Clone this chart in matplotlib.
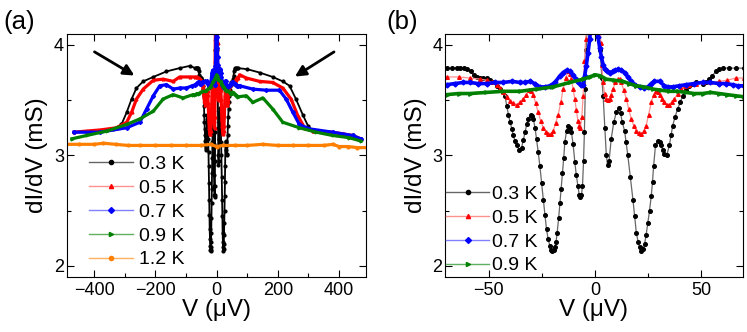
import matplotlib
matplotlib.use('Agg')
import matplotlib.pyplot as plt
from matplotlib.lines import Line2D
from matplotlib.ticker import MultipleLocator

plt.rcParams['font.family'] = ['Liberation Sans', 'DejaVu Sans']

# ---- data: bias V (uV) and dI/dV (mS) ----
v03 = [-466, -425, -381, -338, -311, -294, -278, -262, -240, -207, -164, -121, -88,
       -69.6, -67, -65, -63.3, -61.5, -60.2, -58.5, -57, -55.5, -54, -52.5, -50.9, -49.3,
       -47.7, -46.2, -44.6, -43.4, -42.3, -41.5, -40.7, -39.9, -39.1, -38.4, -37.6, -36.8,
       -35.6, -34.5, -33.7, -32.9, -32.1, -31.4, -30.3, -29.6, -29.0, -28.2, -27.5, -26.7,
       -25.9, -25.1, -24.3, -23.5, -22.8, -22.0, -21.2, -20.6, -20.0, -19.4, -18.9, -18.3,
       -17.8, -17.1, -16.5, -15.9, -15.3, -14.7, -14.2, -13.4, -12.6, -11.8, -11.1, -10.3,
       -9.5, -8.8, -8.0, -7.4, -6.9, -6.4, -5.9, -5.4, -5.0, -4.6, -4.2, -3.0, -1.5, 0,
       1.0, 1.5, 2.4, 3.2, 3.8, 4.6, 5.3, 5.9, 6.6, 7.6, 8.8, 10.0, 11.2, 12.0, 12.8, 13.9,
       14.6, 15.4, 16.6, 17.8, 18.6, 19.4, 20.2, 20.9, 21.7, 22.5, 23.3, 24.0, 24.8, 25.6,
       26.4, 27.0, 27.5, 28.4, 29.5, 30.3, 31.0, 31.8, 32.6, 33.7, 34.9, 35.7, 36.5, 37.6,
       38.8, 40.0, 41.2, 42.7, 44.3, 46.0, 47.4, 50.5, 52.0, 53.7, 55.0, 56.8, 58.3, 59.9,
       63, 66.1, 70,
       100, 140, 183, 216, 238, 259, 281, 298, 314, 357, 412, 444, 471]
g03 = [3.21, 3.21, 3.22, 3.24, 3.28, 3.39, 3.51, 3.61, 3.67, 3.71, 3.76, 3.79, 3.81,
       3.79, 3.79, 3.795, 3.795, 3.79, 3.78, 3.76, 3.73, 3.71, 3.70, 3.70, 3.70, 3.68,
       3.66, 3.63, 3.60, 3.57, 3.54, 3.45, 3.37, 3.30, 3.24, 3.18, 3.13, 3.09,
       3.05, 3.07, 3.14, 3.21, 3.28, 3.33, 3.37, 3.36, 3.33, 3.25, 3.15, 3.03,
       2.90, 2.75, 2.60, 2.46, 2.33, 2.24, 2.18, 2.14, 2.13, 2.14, 2.17, 2.22,
       2.30, 2.43, 2.57, 2.70, 2.84, 2.98, 3.12, 3.22, 3.27, 3.25, 3.21, 3.10,
       2.94, 2.82, 2.72, 2.64, 2.62, 2.64, 2.72, 2.95, 3.21, 3.60, 3.95, 4.45, 4.7, 4.8,
       4.6, 4.4, 3.95, 3.70, 3.54, 3.25, 3.00, 2.91, 2.95, 3.15, 3.30, 3.39, 3.43, 3.38, 3.30, 3.22,
       3.12, 3.00, 2.80, 2.60, 2.45, 2.30, 2.22, 2.17, 2.13, 2.15, 2.20, 2.28, 2.39, 2.50,
       2.63, 2.76, 2.90, 3.09, 3.13, 3.12, 3.09, 3.05, 3.01, 3.00, 3.09, 3.18, 3.27, 3.35,
       3.42, 3.48, 3.54, 3.59, 3.63, 3.65, 3.66, 3.65, 3.66, 3.69, 3.72, 3.76, 3.78, 3.79,
       3.79, 3.79, 3.79,
       3.78, 3.75, 3.71, 3.67, 3.63, 3.51, 3.37, 3.27, 3.22, 3.21, 3.19, 3.18, 3.15]

v05 = [-466, -425, -381, -327, -294, -278, -262, -240, -207, -175, -142, -121, -88,
       -69.6, -64, -58.7, -54, -50.9, -48.5, -46.2, -44.6, -43.1, -41.5, -39.9, -38.4,
       -36.8, -35.3, -33.7, -32.3, -30.9, -29.9, -29.0, -27.9, -26.7, -25.5, -24.3, -23.1,
       -22.0, -20.8, -19.7, -18.5, -17.3, -16.1, -15.0, -13.8, -12.6, -11.8, -11.1, -10.3,
       -9.5, -8.8, -8.0, -7.4, -6.9, -6.2, -5.6, -5.0, -4.4, -3.0, 0, 2.0, 2.7, 3.2, 3.7,
       4.5, 5.3, 6.1, 6.9, 7.6, 8.4, 9.6, 10.8, 11.5, 12.3, 13.5, 14.7, 15.8, 17.0, 18.2,
       19.4, 20.5, 21.7, 22.9, 24.0, 25.2, 26.4, 27.5, 28.7, 29.5, 30.3, 31.4, 32.6, 33.7,
       34.9, 36.1, 37.3, 38.8, 40.4, 42.3, 44.3, 47.4, 50.5, 54, 58.3, 62, 66.1, 70,
       75, 97, 140, 183, 216, 243, 265, 287, 314, 379, 444, 471]
g05 = [3.21, 3.22, 3.23, 3.25, 3.30, 3.39, 3.51, 3.60, 3.68, 3.69, 3.67, 3.71, 3.71,
       3.71, 3.71, 3.70, 3.69, 3.68, 3.66, 3.64, 3.61, 3.57, 3.53, 3.49, 3.47,
       3.46, 3.48, 3.51, 3.55, 3.59, 3.58, 3.55, 3.47, 3.39, 3.31, 3.25, 3.21,
       3.19, 3.19, 3.22, 3.29, 3.37, 3.48, 3.60, 3.70, 3.76, 3.74, 3.69, 3.60,
       3.51, 3.41, 3.31, 3.27, 3.25, 3.35, 3.54, 3.85, 4.05, 4.5, 4.8, 4.4, 4.02, 3.82, 3.66,
       3.56, 3.51, 3.50, 3.51, 3.55, 3.60, 3.66, 3.69, 3.69, 3.66, 3.59, 3.51, 3.42, 3.33, 3.27,
       3.22, 3.20, 3.19, 3.22, 3.27, 3.37, 3.48, 3.55, 3.58, 3.57, 3.55, 3.51, 3.48, 3.46,
       3.46, 3.48, 3.51, 3.56, 3.60, 3.63, 3.64, 3.65, 3.66, 3.66, 3.67, 3.68, 3.70, 3.70,
       3.73, 3.70, 3.67, 3.66, 3.61, 3.51, 3.36, 3.25, 3.22, 3.21, 3.18, 3.15]

v07 = [-466, -381, -294, -251, -229, -207, -186, -164, -142, -120, -99, -80,
       -69.6, -66, -62, -58.7, -55, -50.9, -47, -43.1, -39, -35.3, -32.9, -30.6, -28.3,
       -25.9, -23.5, -21.2, -18.9, -16.5, -15.0, -13.4, -11.9, -10.3, -9.1, -8.0, -6.8,
       -5.6, -4.9, -4.1, -3.3, -2.5, -1.5, 0, 1.0, 1.4, 2.2, 3.0, 3.8, 4.5, 5.7, 6.9, 8.4,
       9.6, 10.8, 12.3, 13.9, 15.4, 17.0, 18.6, 20.9, 23.0, 24.8, 26.4, 27.9, 30.3, 32.6,
       34.5, 36.5, 39.5, 42.7, 46.5, 50.5, 54, 58.3, 61.5, 64.6, 67, 70,
       75, 118, 162, 205, 227, 249, 270, 303, 379, 444, 471]
g07 = [3.21, 3.21, 3.25, 3.30, 3.42, 3.54, 3.63, 3.64, 3.60, 3.61, 3.61, 3.63,
       3.64, 3.65, 3.66, 3.66, 3.65, 3.65, 3.66, 3.66, 3.67, 3.66, 3.66, 3.67, 3.65,
       3.62, 3.62, 3.63, 3.66, 3.72, 3.75, 3.77, 3.76, 3.73, 3.69, 3.66, 3.64,
       3.64, 3.72, 3.81, 3.93, 4.05, 4.3, 4.5, 4.3, 4.07, 3.97, 3.89, 3.82, 3.78, 3.76, 3.75, 3.76,
       3.77, 3.78, 3.77, 3.75, 3.71, 3.67, 3.64, 3.62, 3.61, 3.62, 3.65, 3.67, 3.67, 3.63,
       3.62, 3.62, 3.63, 3.64, 3.65, 3.66, 3.66, 3.65, 3.65, 3.64, 3.63, 3.63,
       3.63, 3.60, 3.59, 3.59, 3.51, 3.39, 3.28, 3.24, 3.21, 3.18, 3.15]

v09 = [-473, -425, -359, -294, -251, -207, -175, -142, -110, -77,
       -69.6, -64, -58.7, -51, -43.1, -35.3, -27.5, -19.7, -11.9, -5.6, -2.5, 0, 2.5, 5.3,
       9, 13.1, 16, 19.4, 23, 27.2, 31, 34.9, 38.8, 42.7, 46.5, 50.5, 54.4, 58.3, 62, 66, 70,
       97, 118, 151, 183, 216, 270, 325, 379, 433, 471]
g09 = [3.15, 3.18, 3.22, 3.28, 3.33, 3.40, 3.51, 3.55, 3.52, 3.55,
       3.55, 3.56, 3.56, 3.57, 3.58, 3.58, 3.60, 3.62, 3.66, 3.69, 3.71, 3.73, 3.72, 3.69,
       3.68, 3.67, 3.65, 3.63, 3.62, 3.60, 3.59, 3.58, 3.58, 3.57, 3.56, 3.56, 3.57, 3.56, 3.55, 3.54, 3.53,
       3.54, 3.48, 3.52, 3.42, 3.30, 3.25, 3.21, 3.18, 3.16, 3.13]

v12 = [-495, -450, -400, -370, -330, -290, -250, -200, -150, -100, -50, -20, 0, 20,
       60, 100, 150, 200, 250, 300, 350, 380, 400, 430, 460, 495]
g12 = [3.10, 3.10, 3.10, 3.11, 3.10, 3.09, 3.09, 3.09, 3.09, 3.09, 3.09, 3.10, 3.08, 3.09,
       3.09, 3.09, 3.10, 3.09, 3.09, 3.09, 3.09, 3.10, 3.08, 3.08, 3.07, 3.07]

labels = ['0.3 K', '0.5 K', '0.7 K', '0.9 K', '1.2 K']
colors = ['#000000', '#ff0000', '#0000ff', '#008000', '#ff8000']
lines_c = ['#666666', '#ff9090', '#8080ff', '#60b060', '#ffb060']
markers = ['o', '^', 'D', '>', 'o']
series = [(v03, g03), (v05, g05), (v07, g07), (v09, g09), (v12, g12)]

fig = plt.figure(figsize=(7.47, 3.32), dpi=100)
axa = fig.add_axes([0.0893, 0.166, 0.4007, 0.732])
axb = fig.add_axes([0.5957, 0.166, 0.3989, 0.732])

# panel (a)
for i, (v, g) in enumerate(series):
    lw = 1.3 if i == 0 else 2.3
    axa.plot(v, g, color=colors[i], lw=lw, marker=markers[i], ms=2,
             mfc=colors[i], mec=colors[i])
axa.set_xlim(-490, 488)
axa.xaxis.set_major_locator(MultipleLocator(200))
axa.xaxis.set_minor_locator(MultipleLocator(100))

axa.annotate('', xy=(-261, 3.71), xytext=(-407, 3.95),
             arrowprops=dict(arrowstyle='-|>', lw=2, color='k', mutation_scale=16))
axa.annotate('', xy=(248, 3.70), xytext=(391, 3.95),
             arrowprops=dict(arrowstyle='-|>', lw=2, color='k', mutation_scale=16))

# panel (b)
for i, (v, g) in enumerate(series[:4]):
    if i < 2:
        axb.plot(v, g, color=lines_c[i], lw=0.9, marker=markers[i], ms=2.6,
                 mfc=colors[i], mec=colors[i])
    else:
        axb.plot(v, g, color=colors[i], lw=2.6, marker=markers[i], ms=2.5,
                 mfc=colors[i], mec=colors[i])
axb.set_xlim(-70.5, 69.5)
axb.xaxis.set_major_locator(MultipleLocator(50))
axb.xaxis.set_minor_locator(MultipleLocator(25))

for ax in (axa, axb):
    ax.set_ylim(1.9, 4.1)
    ax.yaxis.set_major_locator(MultipleLocator(1))
    ax.yaxis.set_minor_locator(MultipleLocator(0.5))
    ax.tick_params(which='both', direction='in', top=True, right=True, labelsize=13)
    ax.tick_params(which='major', length=5, width=0.8)
    ax.tick_params(which='minor', length=3, width=0.8)
    ax.tick_params(axis='x', pad=4)
    ax.tick_params(axis='y', pad=2)
    for s in ax.spines.values():
        s.set_linewidth(0.8)
    ax.set_xlabel('V (μV)', fontsize=17.5, labelpad=0)
    ax.set_ylabel('dI/dV (mS)', fontsize=17.5, labelpad=4)

handles = [Line2D([], [], color=lines_c[i], lw=1, marker=markers[i], ms=3,
                  mfc=colors[i], mec=colors[i]) for i in range(5)]
axa.legend(handles, labels, loc='lower left', bbox_to_anchor=(0.075, 0.035),
           frameon=False, fontsize=14, handlelength=2.27, handletextpad=0.3,
           labelspacing=0.32, borderpad=0, borderaxespad=0)
axb.legend(handles[:4], labels[:4], loc='lower left', bbox_to_anchor=(0.005, 0.01),
           frameon=False, fontsize=14, handlelength=2.2, handletextpad=0.15,
           labelspacing=0.32, borderpad=0, borderaxespad=0)

fig.text(0.005, 0.97, '(a)', fontsize=18.5, va='top', ha='left')
fig.text(0.517, 0.97, '(b)', fontsize=18.5, va='top', ha='left')

fig.savefig('out.png', dpi=100)
